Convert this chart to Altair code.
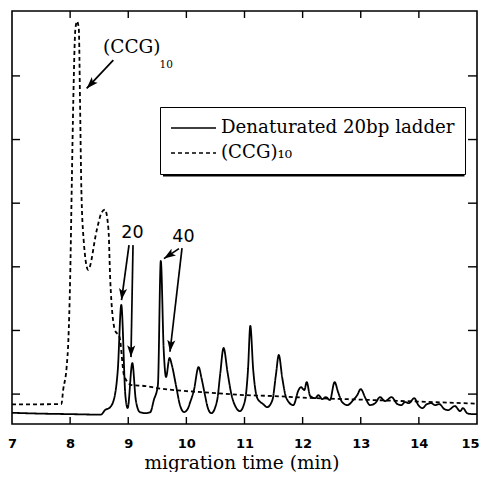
import math
import altair as alt
import pandas as pd

# ---------------- data ----------------
series_names = ["Denaturated 20bp ladder", "(CCG)₁₀"]

ladder_t = [7.00, 7.50, 8.00, 8.53, 8.60, 8.69, 8.77, 8.82, 8.88, 8.95, 8.99, 9.07, 9.13, 9.20,
            9.30, 9.38, 9.44, 9.51, 9.56, 9.61, 9.65, 9.71, 9.75, 9.82, 9.89, 9.96, 10.03, 10.06,
            10.13, 10.21, 10.26, 10.32, 10.37, 10.43, 10.53, 10.58, 10.64, 10.71, 10.77, 10.86,
            10.92, 11.01, 11.06, 11.10, 11.15, 11.22, 11.32, 11.39, 11.48, 11.54, 11.59, 11.65,
            11.72, 11.84, 11.93, 11.97, 12.03, 12.07, 12.13, 12.22, 12.27, 12.34, 12.40, 12.47,
            12.55, 12.61, 12.68, 12.77, 12.87, 12.94, 13.00, 13.08, 13.16, 13.25, 13.33, 13.42,
            13.53, 13.63, 13.70, 13.76, 13.83, 13.92, 13.99, 14.06, 14.14, 14.21, 14.28, 14.35,
            14.44, 14.50, 14.62, 14.71, 14.76, 14.83, 14.92, 15.00]
ladder_v = [0.706, 0.693, 0.685, 0.677, 0.748, 0.795, 0.984, 1.378, 2.402, 0.984, 0.780, 1.488,
            0.906, 0.717, 0.700, 0.717, 0.906, 1.142, 3.094, 1.693, 1.268, 1.567, 1.457, 1.142,
            0.827, 0.717, 0.780, 0.858, 1.063, 1.425, 1.252, 0.984, 0.780, 0.700, 0.906, 1.299,
            1.724, 1.331, 1.016, 0.780, 0.732, 0.906, 1.378, 2.071, 1.378, 0.937, 0.843, 0.795,
            0.906, 1.299, 1.614, 1.252, 0.937, 0.827, 1.063, 1.110, 1.063, 1.189, 0.969, 0.937,
            0.984, 0.921, 0.953, 0.906, 1.189, 1.031, 0.874, 0.827, 0.906, 0.984, 1.079, 0.937,
            0.827, 0.858, 0.953, 0.890, 0.953, 0.843, 0.827, 0.874, 0.858, 0.937, 0.827, 0.780,
            0.843, 0.858, 0.827, 0.843, 0.764, 0.748, 0.811, 0.732, 0.780, 0.700, 0.685, 0.685]

ccg_t = [7.00, 7.85, 7.88, 7.94, 7.97, 8.00, 8.03, 8.055, 8.09, 8.12, 8.15, 8.17, 8.19, 8.22,
         8.31, 8.46, 8.54, 8.60, 8.66, 8.69, 8.77, 8.85, 8.93, 9.06, 9.30, 9.50, 10.0, 10.5,
         11.0, 11.5, 12.0, 13.0, 14.0, 15.0]
ccg_v = [0.838, 0.843, 1.063, 1.425, 1.850, 2.795, 4.370, 5.630, 6.730, 6.858, 6.730, 5.630,
         4.370, 3.583, 2.953, 3.583, 3.850, 3.898, 3.583, 2.795, 2.008, 1.898, 1.283, 1.142,
         1.126, 1.094, 1.047, 1.016, 0.984, 0.969, 0.945, 0.913, 0.882, 0.850]

x_labels = [7, 8, 9, 10, 11, 12, 13, 14, 15]
x_inner_ticks = [8, 9, 10, 11, 12, 13, 14]
y_inner_ticks = [1, 2, 3, 4, 5, 6]

# annotation arrows (start -> tip), in data units
arrow_t0 = [8.743, 9.013, 9.082, 9.873, 9.925]
arrow_v0 = [6.248, 3.341, 3.341, 3.286, 3.294]
arrow_t1 = [8.285, 8.884, 9.047, 9.615, 9.718]
arrow_v1 = [5.804, 2.477, 1.581, 3.129, 1.665]

peak_labels = ["20", "40"]
peak_label_t = [9.073, 9.950]
peak_label_v = [3.538, 3.475]

ccg_label = ["(CCG)"]
ccg_label_t = [8.566]
ccg_label_v = [6.358]
ccg_sub = ["10"]
ccg_sub_t = [9.538]
ccg_sub_v = [6.123]

# ---------------- layout ----------------
W, H = 465, 413
X_DOM = [7, 15]
Y_DOM = [0.53, 7.02]
PX_T = W / (X_DOM[1] - X_DOM[0])
PX_V = H / (Y_DOM[1] - Y_DOM[0])

xs = alt.Scale(domain=X_DOM, nice=False, zero=False)
ys = alt.Scale(domain=Y_DOM, nice=False, zero=False)

x_axis = alt.Axis(
    values=x_labels, format="d", ticks=False, domain=False, grid=False,
    labelFont="DejaVu Sans", labelFontSize=13, labelFontWeight="bold",
    labelColor="black", labelPadding=13, labelFlush=False,
    labelOffset={"condition": {"test": "datum.value == 15", "value": -7}, "value": 0},
    title="migration time (min)", titleFont="DejaVu Serif", titleFontSize=18.5,
    titleFontWeight="normal", titleColor="black", titleBaseline="alphabetic",
    titleAlign="center", titleX=229.5, titleY=44)


def X(field):
    return alt.X(field, scale=xs, axis=x_axis)


def Y(field):
    return alt.Y(field, scale=ys, axis=None)


lines_df = pd.concat([
    pd.DataFrame({"t": ladder_t, "v": ladder_v, "series": series_names[0]}),
    pd.DataFrame({"t": ccg_t, "v": ccg_v, "series": series_names[1]}),
])

LEG_X, LEG_Y = 148, 96

lines = alt.Chart(lines_df).mark_line(
    interpolate="monotone", strokeWidth=1.8, color="black"
).encode(
    x=X("t:Q"),
    y=Y("v:Q"),
    strokeDash=alt.StrokeDash(
        "series:N",
        scale=alt.Scale(domain=series_names, range=[[1, 0], [4, 3]]),
        legend=alt.Legend(
            orient="none", legendX=LEG_X, legendY=LEG_Y, title=None,
            symbolType="stroke", symbolSize=2025, symbolStrokeWidth=1.6,
            symbolStrokeColor="black", labelFont="DejaVu Serif", labelFontSize=18.2,
            labelColor="black", labelOffset=4, labelLimit=500, padding=10,
            rowPadding=3, clipHeight=22, strokeColor="black", fillColor="white")),
)

xt_df = pd.DataFrame({"t": x_inner_ticks})
yt_df = pd.DataFrame({"v": y_inner_ticks})
tick_style = dict(color="black", strokeWidth=1.4)
bottom_ticks = alt.Chart(xt_df).mark_rule(**tick_style).encode(
    x=X("t:Q"), y=alt.value(H), y2=alt.value(H - 7))
top_ticks = alt.Chart(xt_df).mark_rule(**tick_style).encode(
    x=X("t:Q"), y=alt.value(0), y2=alt.value(7))
left_ticks = alt.Chart(yt_df).mark_rule(**tick_style).encode(
    y=Y("v:Q"), x=alt.value(0), x2=alt.value(8))
right_ticks = alt.Chart(yt_df).mark_rule(**tick_style).encode(
    y=Y("v:Q"), x=alt.value(W), x2=alt.value(W - 9))

arr_df = pd.DataFrame({"t0": arrow_t0, "v0": arrow_v0, "t1": arrow_t1, "v1": arrow_v1})
arr_df["ang"] = [
    (math.degrees(math.atan2((b - a) * PX_T, (d - c) * PX_V)) + 360) % 360
    for a, b, c, d in zip(arrow_t0, arrow_t1, arrow_v0, arrow_v1)
]
arrow_lines = alt.Chart(arr_df).mark_rule(color="black", strokeWidth=1.7).encode(
    x=X("t0:Q"), y=Y("v0:Q"), x2="t1:Q", y2="v1:Q")
ARROW_PATH = "M0,0 L0.9,2.6 L0,2.0 L-0.9,2.6 Z"
arrow_heads = alt.Chart(arr_df).mark_point(
    shape=ARROW_PATH, filled=True, size=81, color="black", opacity=1, strokeWidth=0
).encode(x=X("t1:Q"), y=Y("v1:Q"), angle=alt.Angle("ang:Q", scale=None))

pl_df = pd.DataFrame({"t": peak_label_t, "v": peak_label_v, "txt": peak_labels})
peak_text = alt.Chart(pl_df).mark_text(
    font="DejaVu Sans", fontSize=17.5, color="black", align="center", baseline="middle"
).encode(x=X("t:Q"), y=Y("v:Q"), text="txt:N")

cl_df = pd.DataFrame({"t": ccg_label_t, "v": ccg_label_v, "txt": ccg_label})
ccg_text = alt.Chart(cl_df).mark_text(
    font="DejaVu Serif", fontSize=18.5, color="black", align="left", baseline="alphabetic"
).encode(x=X("t:Q"), y=Y("v:Q"), text="txt:N")

cs_df = pd.DataFrame({"t": ccg_sub_t, "v": ccg_sub_v, "txt": ccg_sub})
ccg_sub_text = alt.Chart(cs_df).mark_text(
    font="DejaVu Serif", fontSize=10.5, color="black", align="left", baseline="alphabetic"
).encode(x=X("t:Q"), y=Y("v:Q"), text="txt:N")

LEG_W, LEG_H = 302, 67
shadow = alt.Chart(pd.DataFrame({"k": [0]})).mark_rect(color="black").encode(
    x=alt.value(LEG_X + 3), x2=alt.value(LEG_X + LEG_W + 2.5),
    y=alt.value(LEG_Y + 3), y2=alt.value(LEG_Y + LEG_H + 2.5))

chart = alt.layer(
    lines, bottom_ticks, top_ticks, left_ticks, right_ticks,
    arrow_lines, arrow_heads, peak_text, ccg_text, ccg_sub_text, shadow,
).properties(
    width=W, height=H,
    autosize=alt.AutoSizeParams(type="none"),
    padding={"left": 4, "top": 3, "right": 2, "bottom": 48},
    background="white",
).configure_view(stroke="black", strokeWidth=1.6)

chart.save("out.html", embed_options={"renderer": "svg", "actions": False})
